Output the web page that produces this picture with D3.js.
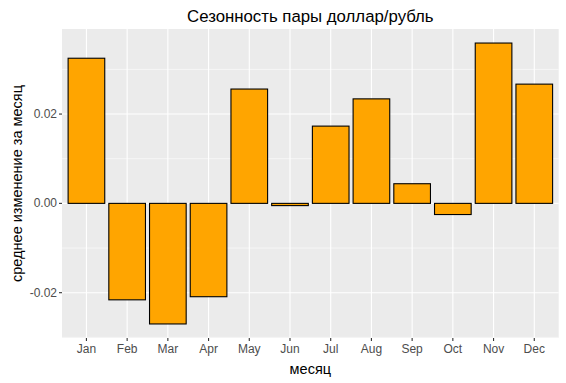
<!DOCTYPE html>
<html><head><meta charset="utf-8">
<script src="https://cdn.jsdelivr.net/npm/d3@7"></script>
<style>body{margin:0;background:#fff}svg{display:block}</style>
</head><body>
<svg id="c" width="566" height="383"></svg>
<script>
const months = ["Jan","Feb","Mar","Apr","May","Jun","Jul","Aug","Sep","Oct","Nov","Dec"];
const values = [0.0325,-0.0216,-0.0270,-0.0209,0.0256,-0.0005,0.0173,0.0234,0.0044,-0.0025,0.0359,0.0267];
const yTicks = [-0.02,0.00,0.02];
const yMinor = [-0.03,-0.01,0.01,0.03];
const yTickLabels = ["-0.02","0.00","0.02"];
const title = "Сезонность пары доллар/рубль";
const xTitle = "месяц";
const yTitle = "среднее изменение за месяц";

const svg = d3.select("#c");
const L = 62, R = 558.7, T = 29, B = 338;
const FONT = "Liberation Sans, Arial, sans-serif";
const x = d3.scaleBand().domain(months).range([L, R]).paddingOuter(0.15).paddingInner(0.1);
const xc = m => x(m) + x.bandwidth() / 2;
const bw = x.bandwidth();
const ymax = d3.max(values), ymin = d3.min(values), pad = (ymax - ymin) * 0.05;
const y = d3.scaleLinear().domain([ymin - pad, ymax + pad]).range([B, T]);

svg.append("rect").attr("x", L).attr("y", T).attr("width", R - L).attr("height", B - T).attr("fill", "#ebebeb");
const g = svg.append("g");
yMinor.filter(v => y(v) >= T && y(v) <= B).forEach(v => {
  g.append("line").attr("x1", L).attr("x2", R).attr("y1", y(v)).attr("y2", y(v)).attr("stroke", "#fff").attr("stroke-width", 0.55);
});
yTicks.forEach(v => {
  g.append("line").attr("x1", L).attr("x2", R).attr("y1", y(v)).attr("y2", y(v)).attr("stroke", "#fff").attr("stroke-width", 1.1);
});
months.forEach(m => {
  g.append("line").attr("x1", xc(m)).attr("x2", xc(m)).attr("y1", T).attr("y2", B).attr("stroke", "#fff").attr("stroke-width", 1.1);
});

svg.append("g").selectAll("rect").data(months).join("rect")
  .attr("x", (m) => xc(m) - bw / 2)
  .attr("width", bw)
  .attr("y", (m, i) => y(Math.max(0, values[i])))
  .attr("height", (m, i) => Math.abs(y(values[i]) - y(0)))
  .attr("fill", "#ffa500").attr("stroke", "#000").attr("stroke-width", 1.1);

const xAxis = svg.append("g");
months.forEach(m => {
  xAxis.append("line").attr("x1", xc(m)).attr("x2", xc(m)).attr("y1", B).attr("y2", B + 3).attr("stroke", "#333").attr("stroke-width", 1.1);
  xAxis.append("text").attr("x", xc(m)).attr("y", B + 15).attr("text-anchor", "middle")
    .attr("font-family", FONT).attr("font-size", 12).attr("fill", "#4d4d4d").text(m);
});
const yAxis = svg.append("g");
yTicks.forEach((v, i) => {
  yAxis.append("line").attr("x1", L - 3).attr("x2", L).attr("y1", y(v)).attr("y2", y(v)).attr("stroke", "#333").attr("stroke-width", 1.1);
  yAxis.append("text").attr("x", L - 5).attr("y", y(v) + 4).attr("text-anchor", "end")
    .attr("font-family", FONT).attr("font-size", 12).attr("fill", "#4d4d4d").text(yTickLabels[i]);
});

svg.append("text").attr("x", (L + R) / 2).attr("y", 22).attr("text-anchor", "middle")
  .attr("font-family", FONT).attr("font-size", 16.8).attr("fill", "#000").text(title);
svg.append("text").attr("x", (L + R) / 2).attr("y", 374).attr("text-anchor", "middle")
  .attr("font-family", FONT).attr("font-size", 14.5).attr("fill", "#000").text(xTitle);
svg.append("text").attr("transform", `translate(22,${(T + B) / 2}) rotate(-90)`).attr("text-anchor", "middle")
  .attr("font-family", FONT).attr("font-size", 14.5).attr("fill", "#000").text(yTitle);
</script>
</body></html>
